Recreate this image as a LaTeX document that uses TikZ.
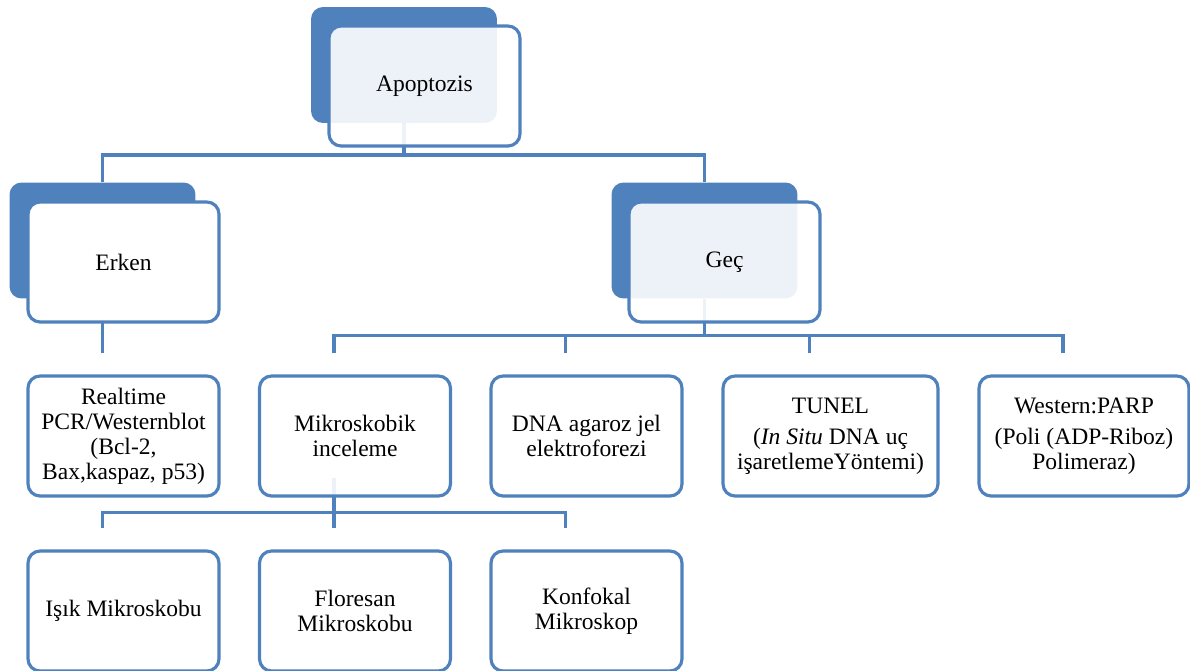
\documentclass[tikz,border=0pt]{standalone}
\usepackage{fontspec}
\setmainfont{Liberation Serif}
\usetikzlibrary{backgrounds}
\definecolor{smblue}{HTML}{4F81BD}

\begin{document}
\begin{tikzpicture}[x=0.02cm,y=-0.02cm,
    conn/.style={draw=smblue,line width=2.1pt},
    back/.style={fill=smblue,rounded corners=0.24cm,minimum width=3.72cm,
      minimum height=2.32cm},
    front/.style={draw=smblue,line width=1.8pt,fill=white,fill opacity=0.9,
      text opacity=1,rounded corners=0.24cm,minimum width=3.82cm,
      minimum height=2.4cm,align=center,
      font=\fontsize{13.4}{14.2}\selectfont}]
    \useasboundingbox (0,0) rectangle (1190,670);
    \node[back] (apoB) at (404,65) {}; \node[back] (erkenB) at
    (102.5,240.5) {}; \node[back] (gecB) at (704.5,240.5) {};
    \node[front] (apo) at (424.5,86) {Apoptozis}; \node[front,fill
    opacity=1] (erken) at (123.5,262) {Erken}; \node[front] (gec) at
    (724.5,262) {Geç};
    \node[front] (real) at (123.5,436)
    {Realtime\\PCR/Westernblot\\(Bcl-2,\\Bax,kaspaz, p53)};
    \node[front] (mikro) at (355,436) {Mikroskobik\\inceleme};
    \node[front] (dna) at (586.5,436) {DNA agaroz jel\\elektroforezi};
    \node[front,minimum width=4.3cm] (tunel) at (830.5,436)
    {TUNEL\\[3.5pt](\textit{In Situ} DNA uç\\işaretlemeYöntemi)};
    \node[front,minimum width=4.2cm] (western) at (1084,436)
    {Western:PARP\\[3.5pt](Poli (ADP-Riboz)\\Polimeraz)};
    \node[front] (isik) at (123.5,611) {Işık Mikroskobu}; \node[front]
    (flor) at (355,611) {Floresan\\Mikroskobu}; \node[front] (konf) at
    (586.5,611) {Konfokal\\Mikroskop};
    \begin{scope}[on background layer]
      \draw[conn] (apoB.south) -- (apoB.south |- 0,155); \draw[conn]
      (erkenB.north) |- (gecB.north |- 0,155) -- (gecB.north);
      \draw[conn] (erkenB.south) -- ([shift={(-21,-21)}]real.north);
      \draw[conn] (gecB.south) -- (gecB.south |- 0,337); \draw[conn]
      ([shift={(-21,-21)}]mikro.north) -- ++(0,-18) -|
      ([shift={(-21,-21)}]western.north); \draw[conn]
      ([shift={(-21,-21)}]dna.north) -- ++(0,-18); \draw[conn]
      ([shift={(-21,-21)}]tunel.north) -- ++(0,-18);
      \draw[conn] ([shift={(-21,-20)}]mikro.south) -- ++(0,38);
      \draw[conn] ([shift={(-21,-21)}]isik.north) -- ++(0,-16) -|
      ([shift={(-21,-21)}]konf.north); \draw[conn]
      ([shift={(-21,-21)}]flor.north) -- ++(0,-16);
    \end{scope}
  \end{tikzpicture}
\end{document}
